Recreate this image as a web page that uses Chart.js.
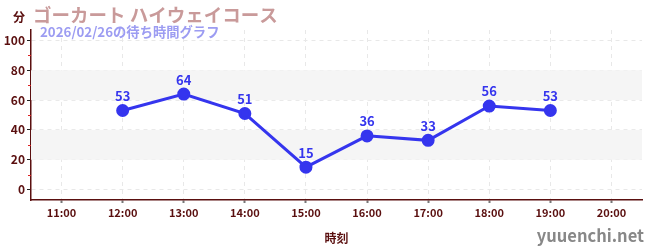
<!DOCTYPE html>
<html><head><meta charset="utf-8">
<script src="https://cdn.jsdelivr.net/npm/chart.js@4/dist/chart.umd.min.js"></script>
<style>html,body{margin:0;padding:0;background:#fff}#wrap{width:650px;height:250px;position:relative}</style>
</head><body><div id="wrap"><canvas id="c"></canvas></div>
<script>
const categories = ["11:00","12:00","13:00","14:00","15:00","16:00","17:00","18:00","19:00","20:00"];
const waitTimes = [null,53,64,51,15,36,33,56,53,null];
const yTicks = [0,20,40,60,80,100];
const minorTicks = [10,30,50,70,90];
const bands = [[20,40],[60,80]];
const titleText = "ゴーカート ハイウェイコース";
const subtitleText = "2026/02/26の待ち時間グラフ";
const unitText = "分";
const xTitle = "時刻";
const watermark = "yuuenchi.net";

const FONT = "'Noto Sans CJK JP', 'Noto Sans', sans-serif";
const AXIS = "#5a0f0f";
const LINE = "#3535ee";

const deco = {
  id: 'deco',
  beforeDatasetsDraw(chart) {
    const {ctx, chartArea: a, scales: {y}} = chart;
    ctx.save();
    ctx.fillStyle = '#f5f5f5';
    bands.forEach(([lo, hi]) => {
      const t = y.getPixelForValue(hi), b = y.getPixelForValue(lo);
      ctx.fillRect(a.left, t, a.right - a.left, b - t);
    });
    ctx.restore();
  },
  afterDraw(chart) {
    const {ctx, chartArea: a, scales: {x, y}} = chart;
    ctx.save();
    ctx.strokeStyle = '#dd2222'; ctx.lineWidth = 1;
    minorTicks.forEach(v => {
      const py = Math.round(y.getPixelForValue(v)) + 0.5;
      ctx.beginPath(); ctx.moveTo(a.left - 3, py); ctx.lineTo(a.left, py); ctx.stroke();
    });
    ctx.fillStyle = LINE; ctx.font = "bold 13px " + FONT;
    ctx.textAlign = 'center'; ctx.textBaseline = 'bottom';
    const meta = chart.getDatasetMeta(0);
    meta.data.forEach((p, i) => {
      if (waitTimes[i] == null) return;
      ctx.fillText(String(waitTimes[i]), p.x, p.y - 8);
    });
    ctx.textAlign = 'left'; ctx.textBaseline = 'alphabetic';
    ctx.fillStyle = '#c99a9a'; ctx.font = "bold 18.5px " + FONT;
    ctx.fillText(titleText, 33, 22);
    ctx.fillStyle = '#9c9cf2'; ctx.font = "bold 13.3px " + FONT;
    ctx.fillText(subtitleText, 40, 37);
    ctx.fillStyle = AXIS; ctx.font = "bold 12px " + FONT;
    ctx.fillText(unitText, 13, 22);
    ctx.fillStyle = '#888'; ctx.font = "bold 16.5px " + FONT;
    ctx.textAlign = 'right';
    ctx.fillText(watermark, 644, 242);
    ctx.restore();
  }
};

new Chart(document.getElementById('c'), {
  type: 'line',
  data: {
    labels: categories,
    datasets: [{
      data: waitTimes,
      borderColor: LINE,
      backgroundColor: LINE,
      borderWidth: 3,
      pointRadius: 5,
      pointHoverRadius: 5,
      pointBackgroundColor: LINE,
      pointBorderColor: LINE,
      spanGaps: false,
      tension: 0
    }]
  },
  options: {
    responsive: true,
    maintainAspectRatio: false,
    animation: false,
    events: [],
    layout: {padding: {top: 30, right: 5, left: 0, bottom: 0}},
    plugins: {legend: {display: false}, tooltip: {enabled: false}, title: {display: false}},
    scales: {
      x: {
        type: 'category',
        offset: true,
        afterFit: s => { s.height = 50; },
        border: {display: true, color: AXIS, width: 1.5, dash: [4, 4]},
        grid: {
          color: '#e8e8e8', offset: false,
          tickColor: '#777', tickLength: 3, tickWidth: 2, tickBorderDash: []
        },
        ticks: {color: AXIS, font: {family: FONT, size: 11, weight: 'bold'}, padding: 3, maxRotation: 0, autoSkip: false},
        title: {display: true, text: xTitle, color: AXIS, font: {family: FONT, size: 12, weight: 'bold'}, padding: {top: 2}}
      },
      y: {
        min: -7, max: 107,
        afterFit: s => { s.width = 31; },
        afterBuildTicks: s => { s.ticks = yTicks.map(v => ({value: v})); },
        border: {display: true, color: AXIS, width: 1.5, dash: [4, 4]},
        grid: {color: '#e8e8e8', tickColor: '#222', tickLength: 4, tickWidth: 1, tickBorderDash: []},
        ticks: {color: AXIS, font: {family: FONT, size: 12, weight: 'bold'}, padding: 2}
      }
    }
  },
  plugins: [deco]
});
</script>
</body></html>
